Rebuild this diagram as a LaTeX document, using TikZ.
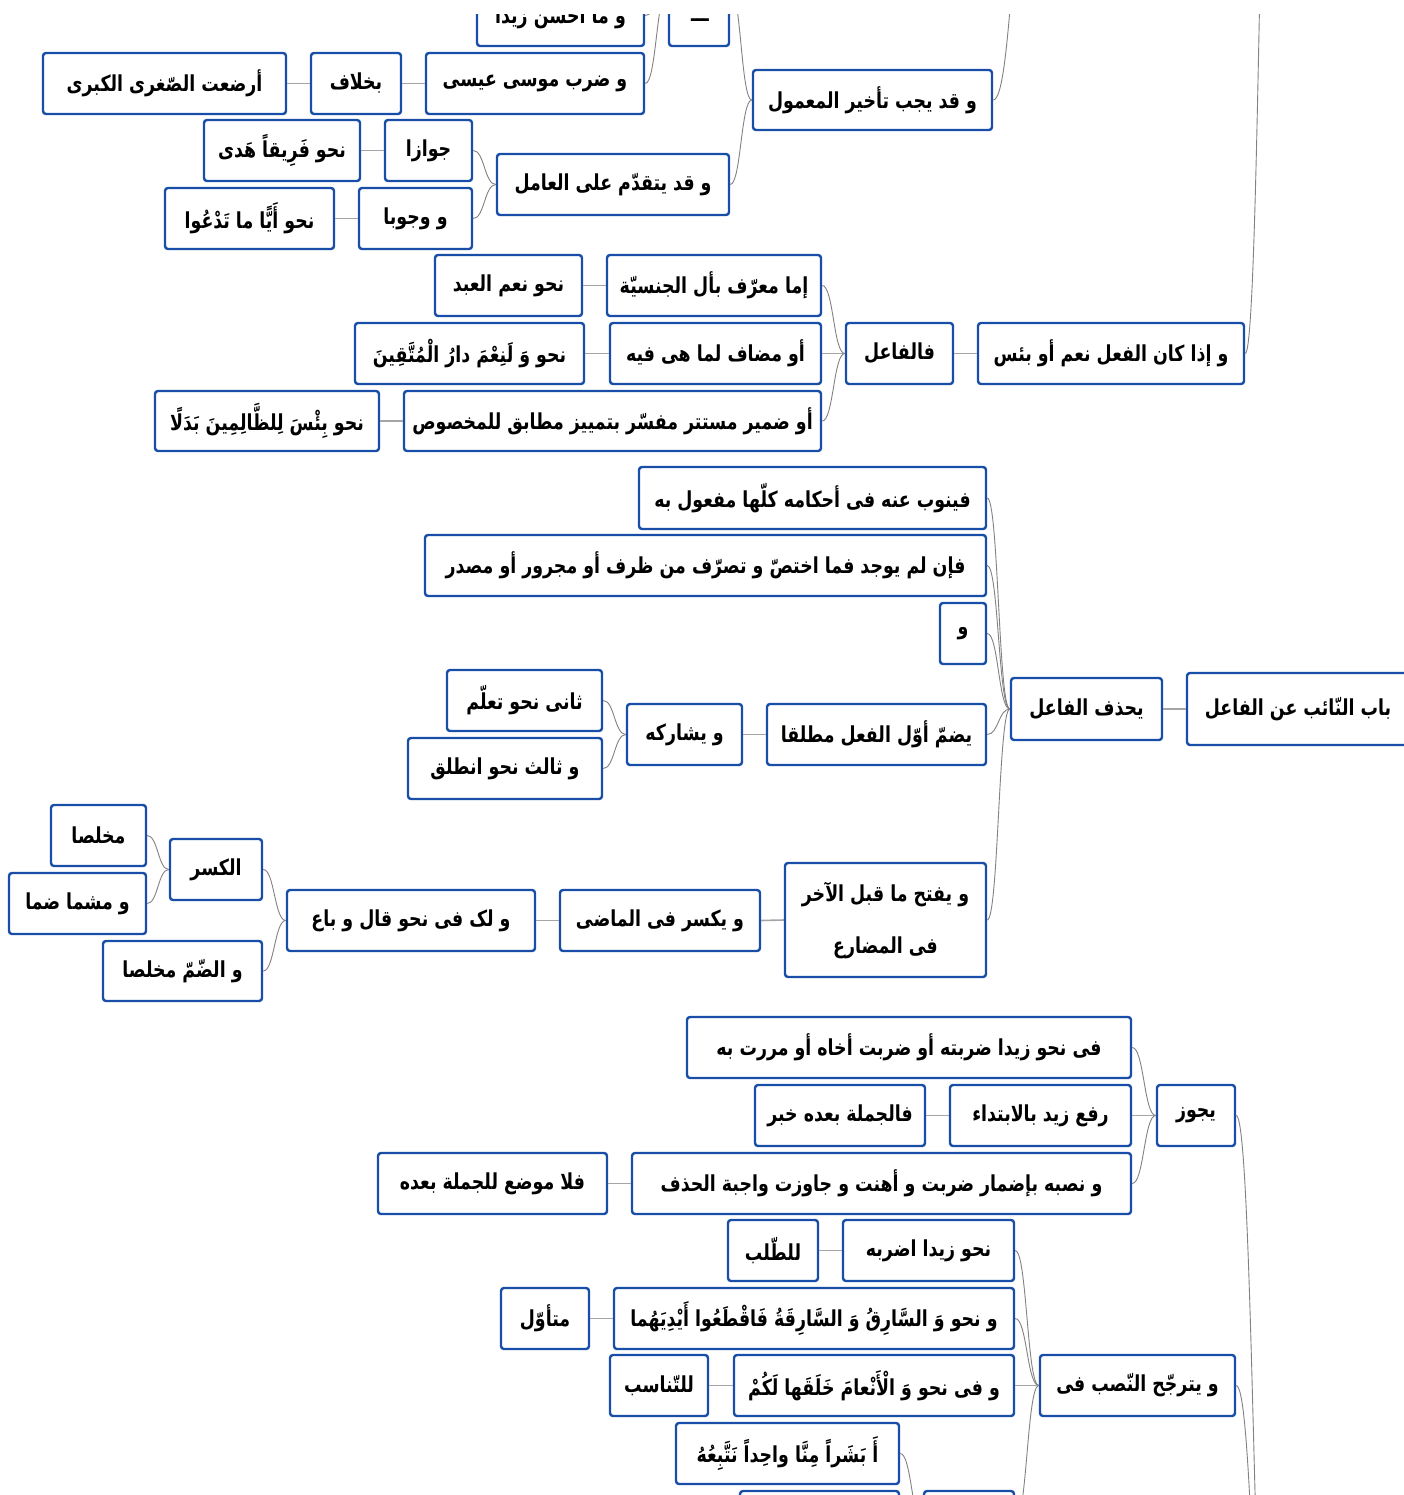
\documentclass[tikz,border=0pt]{standalone}
\usepackage{fontspec}
\usetikzlibrary{calc}
\TeXXeTstate=1
\newfontfamily\arabicfont[Script=Arabic, FakeStretch=0.79]{DejaVu Sans}
\definecolor{boxblue}{RGB}{24,78,168}
\definecolor{lnk}{RGB}{130,130,130}
\definecolor{lnkst}{RGB}{165,165,165}
\newcommand\bx[6]{\node[mbox, minimum width={#4-#2-2}, minimum height={#5-#3-2}] (#1) at ({(#2+#4)/2},{(#3+#5)/2}) {\beginR #6\endR};}
\newcommand\cc[2]{\draw[conn] let \p1=#1, \p2=#2 in (\p1) .. controls ({(\x1+\x2)/2},\y1) and ({(\x1+\x2)/2},\y2) .. (\p2);}
\newcommand\st[2]{\draw[connst] (#1.west) -- (#2.east);}
\begin{document}
\begin{tikzpicture}[x=1pt,y=-1pt,
  mbox/.style={draw=boxblue, line width=2.4pt, rounded corners=3pt, fill=white, inner sep=0pt, font=\arabicfont\bfseries\fontsize{22}{26}\selectfont, text=black},
  conn/.style={draw=lnk, line width=0.9pt},
  connst/.style={draw=lnkst, line width=1.6pt}]
\useasboundingbox (0,0) rectangle (1404,1495);
\fill[white] (0,0) rectangle (1404,1495);
\begin{scope}
\clip (0,15) rectangle (1404,1495);
% top block
\bx{A1}{476}{-16}{645}{47}{و ما أحسن زيدا}
\bx{A2}{668}{-69}{730}{47}{}
\node[font=\arabicfont\bfseries\fontsize{22}{26}\selectfont, inner sep=0pt] (A2t) at (700,20) {\beginR ـــ\endR};
\bx{A3}{425}{52}{645}{115}{و ضرب موسى عيسى}
\bx{A4}{310}{52}{402}{115}{بخلاف}
\bx{A5}{42}{52}{287}{115}{أرضعت الصّغرى الكبرى}
\bx{B1}{752}{69}{993}{131}{و قد يجب تأخير المعمول}
\bx{C1}{496}{153}{730}{216}{و قد يتقدّم على العامل}
\bx{C2}{384}{119}{473}{182}{جوازا}
\bx{C3}{203}{119}{361}{182}{نحو فَرِيقاً هَدى}
\bx{C4}{358}{187}{473}{250}{و وجوبا}
\bx{C5}{164}{187}{335}{250}{نحو أَيًّا ما تَدْعُوا}
% ni'ma block
\bx{D0}{977}{322}{1245}{385}{و إذا كان الفعل نعم أو بئس}
\bx{D1}{845}{322}{954}{385}{فالفاعل}
\bx{D2}{606}{254}{822}{317}{إما معرّف بأل الجنسيّة}
\bx{D3}{434}{254}{583}{317}{نحو نعم العبد}
\bx{D4}{609}{322}{822}{385}{أو مضاف لما هى فيه}
\bx{D5}{354}{322}{585}{385}{نحو وَ لَنِعْمَ دارُ الْمُتَّقِينَ}
\bx{D6}{403}{390}{822}{452}{أو ضمير مستتر مفسّر بتمييز مطابق للمخصوص}
\bx{D7}{154}{390}{380}{452}{نحو بِئْسَ لِلظَّالِمِينَ بَدَلًا}
% naib block
\bx{E0}{1186}{672}{1410}{746}{باب النّائب عن الفاعل}
\bx{E1}{1010}{677}{1163}{741}{يحذف الفاعل}
\bx{E2}{638}{466}{987}{530}{فينوب عنه فى أحكامه كلّها مفعول به}
\bx{E3}{424}{534}{987}{597}{فإن لم يوجد فما اختصّ و تصرّف من ظرف أو مجرور أو مصدر}
\bx{E4}{939}{602}{987}{665}{و}
\bx{E5}{766}{703}{987}{766}{يضمّ أوّل الفعل مطلقا}
\bx{E6}{626}{703}{743}{766}{و يشاركه}
\bx{E7}{446}{669}{603}{732}{ثانى نحو تعلّم}
\bx{E8}{407}{737}{603}{800}{و ثالث نحو انطلق}
\node[mbox, minimum width=201, minimum height=114, align=center, font=\arabicfont\bfseries\fontsize{22}{52}\selectfont] (E9) at (885.5,920) {\beginR و يفتح ما قبل الآخر\endR\\\beginR فى المضارع\endR};
\bx{E10}{559}{889}{761}{952}{و يكسر فى الماضى}
\bx{E11}{286}{889}{536}{952}{و لک فى نحو قال و باع}
\bx{E12}{169}{838}{263}{901}{الكسر}
\bx{E13}{50}{804}{147}{867}{مخلصا}
\bx{E14}{8}{872}{147}{935}{و مشما ضما}
\bx{E15}{102}{940}{263}{1002}{و الضّمّ مخلصا}
% yajuz block
\bx{F0}{1156}{1084}{1236}{1147}{يجوز}
\bx{F1}{686}{1016}{1132}{1079}{فى نحو زيدا ضربته أو ضربت أخاه أو مررت به}
\bx{F2}{949}{1084}{1132}{1147}{رفع زيد بالابتداء}
\bx{F3}{754}{1084}{926}{1147}{فالجملة بعده خبر}
\bx{F4}{631}{1152}{1132}{1215}{و نصبه بإضمار ضربت و أهنت و جاوزت واجبة الحذف}
\bx{F5}{377}{1152}{608}{1215}{فلا موضع للجملة بعده}
% yatarajjah block
\bx{G0}{1039}{1354}{1236}{1417}{و يترجّح النّصب فى}
\bx{G1}{842}{1219}{1015}{1282}{نحو زيدا اضربه}
\bx{G2}{727}{1219}{819}{1282}{للطّلب}
\bx{G3}{613}{1287}{1015}{1350}{و نحو وَ السَّارِقُ وَ السَّارِقَةُ فَاقْطَعُوا أَيْدِيَهُما}
\bx{G4}{500}{1287}{590}{1350}{متأوّل}
\bx{G5}{733}{1354}{1015}{1417}{و فى نحو وَ الْأَنْعامَ خَلَقَها لَكُمْ}
\bx{G6}{609}{1354}{709}{1417}{للتّناسب}
\bx{G7}{675}{1422}{900}{1485}{أَ بَشَراً مِنَّا واحِداً نَتَّبِعُهُ}
\bx{G8}{739}{1490}{900}{1553}{}
\bx{G9}{923}{1490}{1015}{1553}{}
% off-picture parents
\coordinate (PB) at (1030,-120);
\coordinate (PD) at (1275,-400);
\coordinate (PFG) at (1272,1800);
% connectors
\cc{(A1.east)}{(A2.west)}
\cc{(A3.east)}{(A2.west)}
\st{A3}{A4} \st{A4}{A5}
\cc{(A2.east)}{(B1.west)}
\cc{(C1.east)}{(B1.west)}
\cc{(C2.east)}{(C1.west)}
\cc{(C4.east)}{(C1.west)}
\st{C2}{C3} \st{C4}{C5}
\cc{(B1.east)}{(PB)}
\cc{(D0.east)}{(PD)}
\st{D0}{D1}
\cc{(D2.east)}{(D1.west)}
\st{D1}{D4}
\cc{(D6.east)}{(D1.west)}
\st{D2}{D3} \st{D4}{D5} \st{D6}{D7}
\st{E0}{E1}
\cc{(E2.east)}{(E1.west)}
\cc{(E3.east)}{(E1.west)}
\cc{(E4.east)}{(E1.west)}
\cc{(E5.east)}{(E1.west)}
\cc{(E9.east)}{(E1.west)}
\st{E5}{E6}
\cc{(E7.east)}{(E6.west)}
\cc{(E8.east)}{(E6.west)}
\st{E9}{E10} \st{E10}{E11}
\cc{(E12.east)}{(E11.west)}
\cc{(E15.east)}{(E11.west)}
\cc{(E13.east)}{(E12.west)}
\cc{(E14.east)}{(E12.west)}
\cc{(F0.east)}{(PFG)}
\cc{(G0.east)}{(PFG)}
\cc{(F1.east)}{(F0.west)}
\st{F0}{F2}
\cc{(F4.east)}{(F0.west)}
\st{F2}{F3} \st{F4}{F5}
\cc{(G1.east)}{(G0.west)}
\cc{(G3.east)}{(G0.west)}
\st{G0}{G5}
\cc{(G9.east)}{(G0.west)}
\st{G1}{G2} \st{G3}{G4} \st{G5}{G6}
\cc{(G7.east)}{(G9.west)}
\st{G9}{G8}
\end{scope}
\end{tikzpicture}
\end{document}
